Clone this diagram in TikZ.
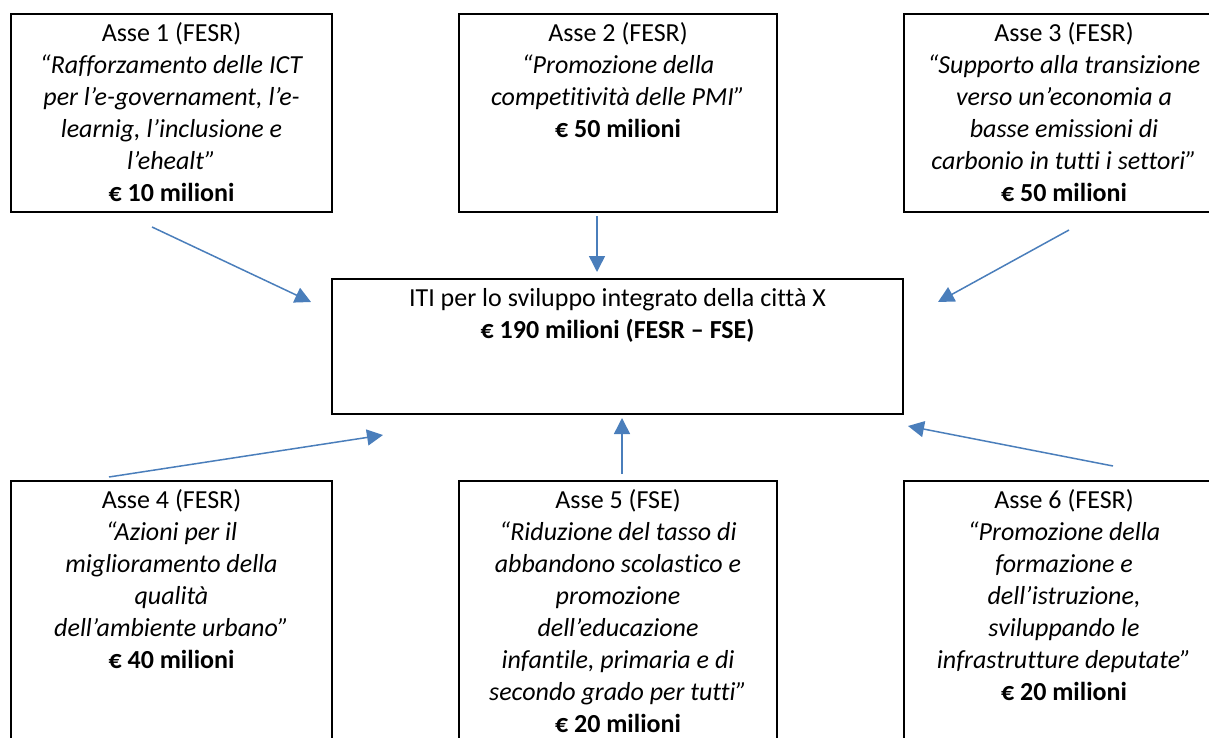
\documentclass[tikz,border=0pt]{standalone}
\usepackage{fontspec}
\setmainfont{Carlito}[Ligatures=NoCommon]
\usepackage{xcolor}
\usetikzlibrary{arrows.meta,calc}
\definecolor{arrowblue}{HTML}{4A7EBB}

\begin{document}
\begin{tikzpicture}[x=0.5pt,y=-0.5pt,
	axbox/.style={draw,line width=1pt,inner sep=0pt,minimum width=160pt},
	axtext/.style={anchor=north,align=center,inner sep=0pt,font=\fontsize{13}{16}\selectfont},
	flow/.style={draw=arrowblue,line width=0.75pt,-{Triangle[length=8pt,width=8pt]}}]
%   [Asse 1]      [Asse 2]      [Asse 3]
%          \         |         /
%           [   ITI citta X    ]
%          /         |         \
%   [Asse 4]      [Asse 5]      [Asse 6]

	\useasboundingbox (0,0) rectangle (1209,738);
	\clip (0,0) rectangle (1209,738);

	% boxes
	\node[axbox,minimum width=160.5pt,minimum height=99pt] (ax1) at (171.5,113) {};
	\node[axbox,minimum width=159pt,minimum height=99pt] (ax2) at (618,113) {};
	\node[axbox,minimum width=160pt,minimum height=99pt] (ax3) at (1064,113) {};
	\node[axbox,minimum width=285.5pt,minimum height=67.5pt] (iti) at (617.5,346.5) {};
	\node[axbox,minimum width=160.5pt,minimum height=144.5pt] (ax4) at (171.5,625.5) {};
	\node[axbox,minimum width=159pt,minimum height=144.5pt] (ax5) at (618,625.5) {};
	\node[axbox,minimum width=160pt,minimum height=144.5pt] (ax6) at (1064,625.5) {};

	% texts
	\node[axtext] (t1) at ($(ax1.north)+(0,5.6)$) {\strut Asse 1 (FESR)\\
		\textit{“Rafforzamento delle ICT}\\ \textit{per l’e-governament, l’e-}\\
		\textit{learnig, l’inclusione e}\\ \textit{l’ehealt”}\\ \textbf{€ 10 milioni}};
	\node[axtext] (t2) at ($(ax2.north)+(0,5.6)$) {\strut Asse 2 (FESR)\\
		\textit{“Promozione della}\\ \textit{competitività delle PMI”}\\ \textbf{€ 50 milioni}};
	\node[axtext] (t3) at ($(ax3.north)+(0,5.6)$) {\strut Asse 3 (FESR)\\
		\textit{“Supporto alla transizione}\\ \textit{verso un’economia a}\\
		\textit{basse emissioni di}\\ \textit{carbonio in tutti i settori”}\\ \textbf{€ 50 milioni}};
	\node[axtext] (tc) at ($(iti.north)+(0,5.6)$) {\strut ITI per lo sviluppo integrato della città X\\
		\textbf{€ 190 milioni (FESR – FSE)}};
	\node[axtext] (t4) at ($(ax4.north)+(0,5.6)$) {\strut Asse 4 (FESR)\\
		\textit{“Azioni per il}\\ \textit{miglioramento della}\\ \textit{qualità}\\
		\textit{dell’ambiente urbano”}\\ \textbf{€ 40 milioni}};
	\node[axtext] (t5) at ($(ax5.north)+(0,5.6)$) {\strut Asse 5 (FSE)\\
		\textit{“Riduzione del tasso di}\\ \textit{abbandono scolastico e}\\ \textit{promozione}\\
		\textit{dell’educazione}\\ \textit{infantile, primaria e di}\\
		\textit{secondo grado per tutti”}\\ \textbf{€ 20 milioni}};
	\node[axtext] (t6) at ($(ax6.north)+(0,5.6)$) {\strut Asse 6 (FESR)\\
		\textit{“Promozione della}\\ \textit{formazione e}\\ \textit{dell’istruzione,}\\
		\textit{sviluppando le}\\ \textit{infrastrutture deputate”}\\ \textbf{€ 20 milioni}};

	% arrow ends
	\coordinate (s1) at (152,227);	\coordinate (e1) at (311,302);
	\coordinate (s2) at (597,216);	\coordinate (e2) at (597,272);
	\coordinate (s3) at (1069,230);	\coordinate (e3) at (938,302);
	\coordinate (s4) at (109,477);	\coordinate (e4) at (383,435);
	\coordinate (s5) at (622,474);	\coordinate (e5) at (622,418);
	\coordinate (s6) at (1113,466);	\coordinate (e6) at (908,426);

	\foreach \i in {1,...,6}
		\draw[flow] (s\i)--(e\i);

\end{tikzpicture}
\end{document}
